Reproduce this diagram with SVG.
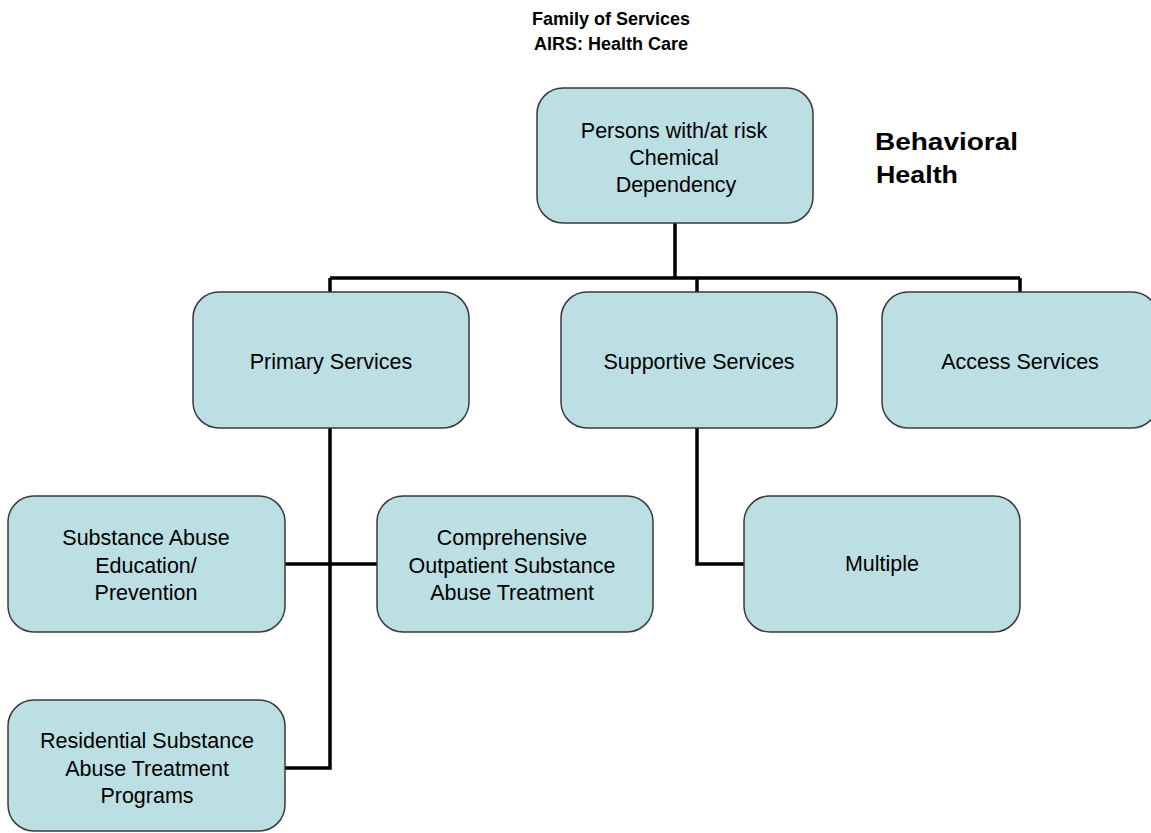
<svg xmlns="http://www.w3.org/2000/svg" width="1151" height="833" viewBox="0 0 1151 833">
<style>
.box{fill:#bbdfe2;stroke:#3a3a3a;stroke-width:1.5}
.t{font-family:"Liberation Sans",Arial,sans-serif;font-size:21.5px;fill:#000;text-anchor:middle}
.h{font-family:"Liberation Sans",Arial,sans-serif;font-weight:bold;fill:#000}
.c{fill:none;stroke:#000;stroke-width:3.5}
</style>
<rect width="1151" height="833" fill="#fff"/>
<text class="h" x="611" y="25" font-size="18" text-anchor="middle">Family of Services</text>
<text class="h" x="611" y="50" font-size="18" text-anchor="middle">AIRS: Health Care</text>
<text class="h" x="875" y="150" font-size="24" textLength="143" lengthAdjust="spacingAndGlyphs">Behavioral</text>
<text class="h" x="876" y="183" font-size="24" textLength="82" lengthAdjust="spacingAndGlyphs">Health</text>
<g id="connectors">
<path class="c" d="M675,223 V278 M330,278 H1020 M330,278 V292 M697,278 V292 M1020,278 V292"/>
<path class="c" d="M330,428 V768 H285 M285,564 H377"/>
<path class="c" d="M697,428 V564 H744"/>
</g>
<g id="n-top"><rect class="box" x="537" y="88" width="276" height="135" rx="26"/>
<text class="t" x="674" y="138">Persons with/at risk</text><text class="t" x="674" y="165">Chemical</text><text class="t" x="676" y="192">Dependency</text></g>
<g id="n-primary"><rect class="box" x="193" y="292" width="276" height="136" rx="26"/>
<text class="t" x="331" y="369">Primary Services</text></g>
<g id="n-supportive"><rect class="box" x="561" y="292" width="276" height="136" rx="26"/>
<text class="t" x="699" y="369">Supportive Services</text></g>
<g id="n-access"><rect class="box" x="882" y="292" width="276" height="136" rx="26"/>
<text class="t" x="1020" y="369">Access Services</text></g>
<g id="n-education"><rect class="box" x="8" y="496" width="277" height="136" rx="26"/>
<text class="t" x="146" y="545">Substance Abuse</text><text class="t" x="146" y="573">Education/</text><text class="t" x="146" y="600">Prevention</text></g>
<g id="n-outpatient"><rect class="box" x="377" y="496" width="276" height="136" rx="26"/>
<text class="t" x="512" y="545">Comprehensive</text><text class="t" x="512" y="573">Outpatient Substance</text><text class="t" x="512" y="600">Abuse Treatment</text></g>
<g id="n-multiple"><rect class="box" x="744" y="496" width="276" height="136" rx="26"/>
<text class="t" x="882" y="571">Multiple</text></g>
<g id="n-residential"><rect class="box" x="8" y="700" width="277" height="131" rx="26"/>
<text class="t" x="147" y="748">Residential Substance</text><text class="t" x="147" y="776">Abuse Treatment</text><text class="t" x="147" y="803">Programs</text></g>
</svg>
